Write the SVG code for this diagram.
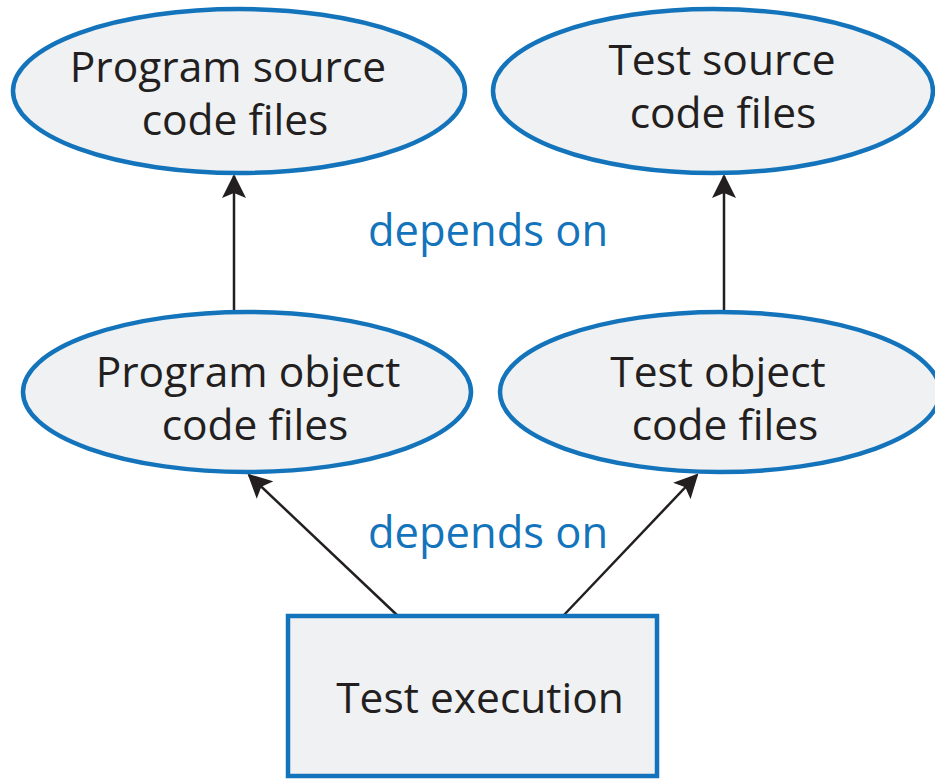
<svg xmlns="http://www.w3.org/2000/svg" width="935" height="779" viewBox="0 0 935 779">
<defs>
<style>
.node{fill:#f0f1f3;stroke:#1474bb;stroke-width:4.5}
.t{font-family:"Open Sans","Noto Sans",sans-serif;font-size:42.5px;fill:#231f20;text-anchor:middle}
.lbl{font-family:"Open Sans","Noto Sans",sans-serif;font-size:43.5px;fill:#1474bb;text-anchor:middle}
.edge{stroke:#231f20;stroke-width:2.5;fill:none;marker-end:url(#ah)}
</style>
<marker id="ah" viewBox="0 0 24 24" refX="22" refY="12" markerWidth="24" markerHeight="24" markerUnits="userSpaceOnUse" orient="auto">
<path d="M0,0 L24,12 L0,24 L5,12 Z" fill="#231f20"/>
</marker>
</defs>
<rect width="935" height="779" fill="#ffffff"/>
<g id="connectors">
<line class="edge" x1="234" y1="310" x2="234" y2="176"/>
<line class="edge" x1="724" y1="310" x2="724" y2="176"/>
<line class="edge" x1="398" y1="616" x2="249" y2="475"/>
<line class="edge" x1="563" y1="616" x2="697" y2="475"/>
</g>
<g id="prog-src">
<ellipse class="node" cx="239" cy="91" rx="226" ry="82"/>
<text class="t" x="228" y="82">Program source</text>
<text class="t" x="235" y="135">code files</text>
</g>
<g id="test-src">
<ellipse class="node" cx="713" cy="91" rx="220" ry="82"/>
<text class="t" x="722" y="75">Test source</text>
<text class="t" x="723" y="128">code files</text>
</g>
<g id="prog-obj">
<ellipse class="node" cx="247" cy="392" rx="224" ry="80"/>
<text class="t" x="248" y="387">Program object</text>
<text class="t" x="255" y="440">code files</text>
</g>
<g id="test-obj">
<ellipse class="node" cx="720" cy="392" rx="220" ry="80"/>
<text class="t" x="718" y="387">Test object</text>
<text class="t" x="725" y="440">code files</text>
</g>
<g id="test-exec">
<rect class="node" x="288" y="616" width="369" height="160"/>
<text class="t" x="480" y="713">Test execution</text>
</g>
<g id="labels">
<text class="lbl" x="488" y="246">depends on</text>
<text class="lbl" x="488" y="548">depends on</text>
</g>
</svg>
